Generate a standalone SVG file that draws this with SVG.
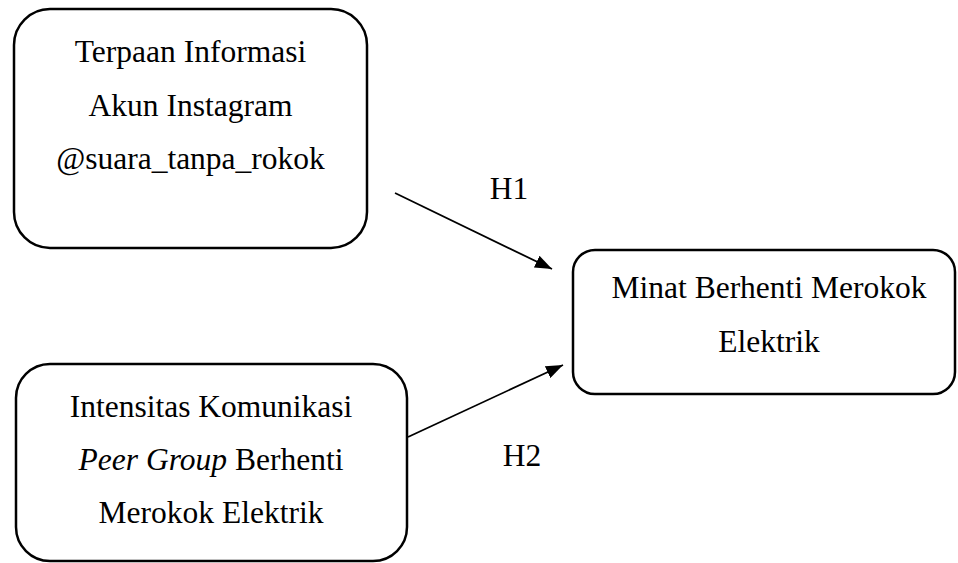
<svg xmlns="http://www.w3.org/2000/svg" width="958" height="563" viewBox="0 0 958 563">
<style>
.box{fill:#fff;stroke:#000;stroke-width:2.5}
.t{font-family:'Liberation Serif','Times New Roman',Times,serif;font-size:31.5px;fill:#000;text-anchor:middle}
.c{stroke:#000;stroke-width:1.8;fill:none}
</style>
<defs>
<marker id="ah" markerUnits="userSpaceOnUse" markerWidth="17" markerHeight="13" refX="17" refY="6.5" orient="auto">
<path d="M0,0 L17,6.5 L0,13 z" fill="#000"/>
</marker>
</defs>
<rect width="958" height="563" fill="#fff"/>
<g id="n1">
<rect class="box" x="14" y="9" width="353" height="239" rx="36" ry="36"/>
<text class="t" x="190.5" y="62">Terpaan Informasi</text>
<text class="t" x="190.5" y="116">Akun Instagram</text>
<text class="t" x="190.5" y="169">@suara_tanpa_rokok</text>
</g>
<g id="n2">
<rect class="box" x="16" y="364" width="391" height="197" rx="34" ry="34"/>
<text class="t" x="211" y="417">Intensitas Komunikasi</text>
<text class="t" x="211" y="470"><tspan font-style="italic">Peer Group</tspan> Berhenti</text>
<text class="t" x="211" y="523">Merokok Elektrik</text>
</g>
<g id="n3">
<rect class="box" x="573" y="250" width="382" height="144" rx="22" ry="22"/>
<text class="t" x="769" y="298">Minat Berhenti Merokok</text>
<text class="t" x="769" y="352">Elektrik</text>
</g>
<g id="connectors">
<line class="c" x1="395" y1="193" x2="552" y2="269" marker-end="url(#ah)"/>
<line class="c" x1="408" y1="437" x2="563" y2="365" marker-end="url(#ah)"/>
<text class="t" x="509" y="199">H1</text>
<text class="t" x="522" y="466">H2</text>
</g>
</svg>
